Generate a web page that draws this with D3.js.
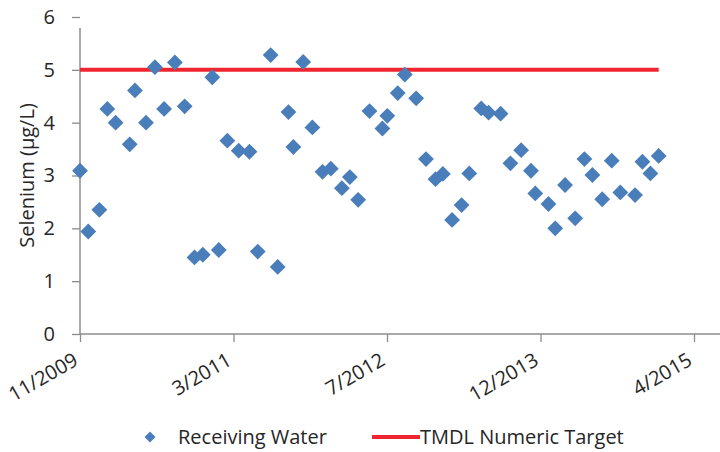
<!DOCTYPE html>
<html><head><meta charset="utf-8">
<script src="https://cdn.jsdelivr.net/npm/d3@7"></script>
<style>body{margin:0;background:#fff}svg{display:block}text{font-family:"Open Sans",sans-serif;fill:#262626}</style>
</head><body><svg id="c" width="720" height="452"></svg>
<script>
const sampleDates = ["2009-11-01","2009-11-28","2010-01-03","2010-01-29","2010-02-25","2010-04-12","2010-04-29","2010-06-04","2010-07-03","2010-08-02","2010-09-06","2010-10-08","2010-11-09","2010-12-06","2011-01-06","2011-01-27","2011-02-24","2011-04-02","2011-05-07","2011-06-03","2011-07-15","2011-08-07","2011-09-11","2011-09-27","2011-10-29","2011-11-28","2011-12-31","2012-01-27","2012-03-03","2012-03-29","2012-04-25","2012-06-01","2012-07-13","2012-07-29","2012-09-01","2012-09-24","2012-10-31","2012-12-02","2013-01-02","2013-01-26","2013-02-25","2013-03-28","2013-04-22","2013-05-31","2013-06-24","2013-08-02","2013-09-03","2013-10-08","2013-11-09","2013-11-23","2014-01-05","2014-01-27","2014-02-28","2014-04-02","2014-05-02","2014-05-28","2014-06-29","2014-07-30","2014-08-27","2014-10-14","2014-11-07","2014-12-03","2014-12-30"];
const seleniumValues = [3.09,1.94,2.35,4.26,4.0,3.59,4.61,4.0,5.05,4.26,5.14,4.31,1.45,1.5,4.86,1.59,3.66,3.47,3.45,1.56,5.28,1.27,4.2,3.54,5.15,3.91,3.07,3.13,2.76,2.97,2.54,4.22,3.89,4.13,4.56,4.91,4.46,3.31,2.93,3.03,2.16,2.44,3.04,4.27,4.19,4.17,3.23,3.48,3.09,2.66,2.46,2.0,2.82,2.19,3.31,3.01,2.55,3.28,2.68,2.63,3.26,3.04,3.37];
const targetDates = ["2009-11-01","2014-12-30"];
const targetValues = [5,5];
const xTickDates = ["2009-11-01","2011-03-16","2012-07-28","2013-12-10","2015-04-24"];
const xTickLabels = ["11/2009","3/2011","7/2012","12/2013","4/2015"];
const yTicks = [0,1,2,3,4,5,6];
const seriesNames = ["Receiving Water","TMDL Numeric Target"];

const parse = d3.timeParse("%Y-%m-%d");
const svg = d3.select("#c");
const x = d3.scaleTime().domain([parse(xTickDates[0]), parse(xTickDates[4])]).range([80, 694]);
const y = d3.scaleLinear().domain([0, 6]).range([334, 17]);
const axisColor = "#8c8c8c";
const fs = "20px";

// y axis
const ya = svg.append("g").attr("transform","translate(80,0)")
  .call(d3.axisLeft(y).tickValues(yTicks).tickSize(8).tickPadding(17).tickFormat(d3.format("d")));
ya.select(".domain").remove();
ya.selectAll(".tick line").attr("stroke", axisColor).attr("stroke-width",1.3);
ya.selectAll(".tick text").style("font-size",fs).attr("fill","#262626");
svg.append("line").attr("x1",80).attr("x2",80).attr("y1",y(5.79)).attr("y2",y(0))
  .attr("stroke",axisColor).attr("stroke-width",1.5);

// x axis
const xa = svg.append("g").attr("transform",`translate(0,${y(0)})`)
  .call(d3.axisBottom(x).tickValues(xTickDates.map(parse)).tickSize(8)
    .tickFormat((d,i)=>xTickLabels[i]));
xa.select(".domain").remove();
xa.selectAll(".tick line").attr("stroke", axisColor).attr("stroke-width",1.3);
xa.selectAll(".tick text").style("font-size",fs)
  .attr("text-anchor","end").attr("dy","0").attr("y",0)
  .attr("transform","translate(-1,30) rotate(-30)");
svg.append("line").attr("x1",80).attr("x2",720).attr("y1",y(0)).attr("y2",y(0))
  .attr("stroke",axisColor).attr("stroke-width",1.5);

// y title
svg.append("text").attr("transform",`translate(34,${y(3)}) rotate(-90)`)
  .attr("text-anchor","middle").style("font-size",fs)
  .text("Selenium (µg/L)");

// target line
const tline = d3.line().x(d=>x(parse(d[0]))).y(d=>y(d[1]));
svg.append("path").datum(targetDates.map((d,i)=>[d,targetValues[i]]))
  .attr("d",tline).attr("stroke","#ef2630").attr("stroke-width",4).attr("fill","none");

// points
const diamond = d3.symbol().type(d3.symbolSquare).size(125);
svg.append("g").selectAll("path").data(sampleDates.map((d,i)=>[d,seleniumValues[i]])).join("path")
  .attr("d",diamond)
  .attr("transform",d=>`translate(${x(parse(d[0]))},${y(d[1])}) rotate(45)`)
  .attr("fill","#4a7ebb");

// legend
const lg = svg.append("g").attr("transform","translate(0,437)");
lg.append("path").attr("d",d3.symbol().type(d3.symbolSquare).size(60)()).attr("transform","translate(150,0) rotate(45)").attr("fill","#4a7ebb");
lg.append("text").attr("x",178).attr("y",0).attr("dy","0.35em").style("font-size",fs).text(seriesNames[0]);
lg.append("line").attr("x1",372).attr("x2",420).attr("y1",0).attr("y2",0).attr("stroke","#ef2630").attr("stroke-width",4);
lg.append("text").attr("x",420).attr("y",0).attr("dy","0.35em").style("font-size",fs).text(seriesNames[1]);
</script></body></html>
